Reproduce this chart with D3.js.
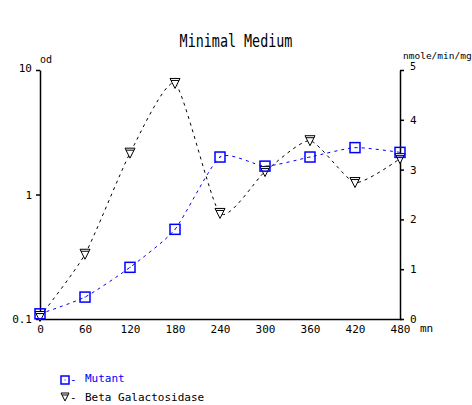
<!DOCTYPE html>
<html><head><meta charset="utf-8">
<script src="https://cdn.jsdelivr.net/npm/d3@7"></script>
<style>
body{margin:0;background:#fff;}
text{font-family:"DejaVu Sans Mono",monospace;font-size:11px;}
</style></head>
<body><svg id="c" width="472" height="405"></svg>
<script>
const minutes = [0, 60, 120, 180, 240, 300, 360, 420, 480];
const mutantOD = [0.11, 0.15, 0.26, 0.525, 2.0, 1.69, 2.0, 2.38, 2.18];
const betaGal = [0.05, 1.3, 3.33, 4.73, 2.12, 2.96, 3.58, 2.74, 3.22];
const xTicks = [0, 60, 120, 180, 240, 300, 360, 420, 480];
const leftTicks = [0.1, 1, 10];
const rightTicks = [0, 1, 2, 3, 4, 5];

const svg = d3.select("#c");
const L = 40, R = 400, T = 70, B = 319;
const x = d3.scaleLinear().domain([0, 480]).range([L, R]);
const yL = d3.scaleLog().domain([0.1, 10]).range([B, T]);
const yR = d3.scaleLinear().domain([0, 5]).range([B, T]);

svg.append("text").attr("transform", "translate(236,47) scale(1,1.25)").attr("text-anchor", "middle")
  .style("font-family", "'DejaVu Sans Mono',monospace").style("font-weight", "300")
  .style("font-size", "13.4px").text("Minimal Medium");

// x axis
const gx = svg.append("g").attr("transform", `translate(0,${B})`)
  .call(d3.axisBottom(x).tickValues(xTicks).tickSize(0).tickSizeOuter(0).tickFormat(d3.format("d")));
gx.select(".domain").attr("d", `M${L},0.5H${R+2}`);
gx.selectAll("text").attr("y", 6);
svg.append("text").attr("x", 420).attr("y", 332).text("mn");

// left axis
const gl = svg.append("g").attr("transform", `translate(${L},0)`)
  .call(d3.axisLeft(yL).tickValues(leftTicks).tickSize(4).tickSizeOuter(0).tickFormat(d => d === 0.1 ? "0.1" : String(d)));
gl.selectAll("text").attr("x", -8);
gl.selectAll(".tick").filter(d => d === 10).select("text").attr("y", -2);
svg.append("text").attr("x", 40).attr("y", 63).style("font-size", "10px").text("od");

// right axis
const gr = svg.append("g").attr("transform", `translate(${R},0)`)
  .call(d3.axisRight(yR).tickValues(rightTicks).tickSize(4).tickSizeOuter(0).tickFormat(d3.format("d")));
gr.selectAll("text").attr("x", 10);
gr.selectAll(".tick").filter(d => d === 5).select("text").attr("y", -4).style("font-size", "10px");
svg.append("text").attr("x", 403).attr("y", 59).style("font-size", "9.5px").text("nmole/min/mg");

svg.selectAll(".domain").attr("stroke", "#000").attr("stroke-width", 1.5);
svg.selectAll(".tick line").attr("stroke", "#000").attr("stroke-width", 1.5);
svg.selectAll(".tick text").style("font-family", "'DejaVu Sans Mono',monospace").attr("fill", "#000");

// lines
const curve = d3.curveCardinal.tension(0.4);
const lineM = d3.line().x((d, i) => x(minutes[i])).y(d => yL(d)).curve(curve);
const lineB = d3.line().x((d, i) => x(minutes[i])).y(d => yR(d)).curve(curve);
svg.append("path").attr("d", lineB(betaGal)).attr("fill", "none").attr("stroke", "#000")
  .attr("stroke-width", 1).attr("stroke-dasharray", "3,4");
svg.append("path").attr("d", lineM(mutantOD)).attr("fill", "none").attr("stroke", "#0000ff")
  .attr("stroke-width", 1).attr("stroke-dasharray", "3,4");

function tri(g, cx, cy, s) {
  g.append("path").attr("d", `M${cx-s},${cy-s}H${cx+s}L${cx},${cy+s}Z M${cx-s+1},${cy-s+2}H${cx+s-1}`)
    .attr("fill", "#fff").attr("stroke", "#000").attr("stroke-width", 1);
}
function sq(g, cx, cy, s) {
  g.append("rect").attr("x", cx - s).attr("y", cy - s).attr("width", 2 * s).attr("height", 2 * s)
    .attr("fill", "none").attr("stroke", "#0000ff").attr("stroke-width", 1.5);
  g.append("rect").attr("x", cx - 0.5).attr("y", cy - 0.5).attr("width", 1).attr("height", 1).attr("fill", "#0000ff");
}
const gm = svg.append("g");
betaGal.forEach((v, i) => tri(gm, x(minutes[i]), yR(v), 5));
mutantOD.forEach((v, i) => sq(gm, x(minutes[i]), yL(v), 5));

// legend
const lg = svg.append("g").style("font-size", "10px");
sq(lg, 65, 380, 4);
lg.append("text").attr("x", 70).attr("y", 383).text("-").attr("fill", "#0000ff");
lg.append("text").attr("x", 85).attr("y", 382).text("Mutant").attr("fill", "#0000ff");
tri(lg, 65, 397, 4);
lg.append("text").attr("x", 70).attr("y", 401).text("-");
lg.append("text").attr("x", 85).attr("y", 401).text("Beta Galactosidase");
</script></body></html>
